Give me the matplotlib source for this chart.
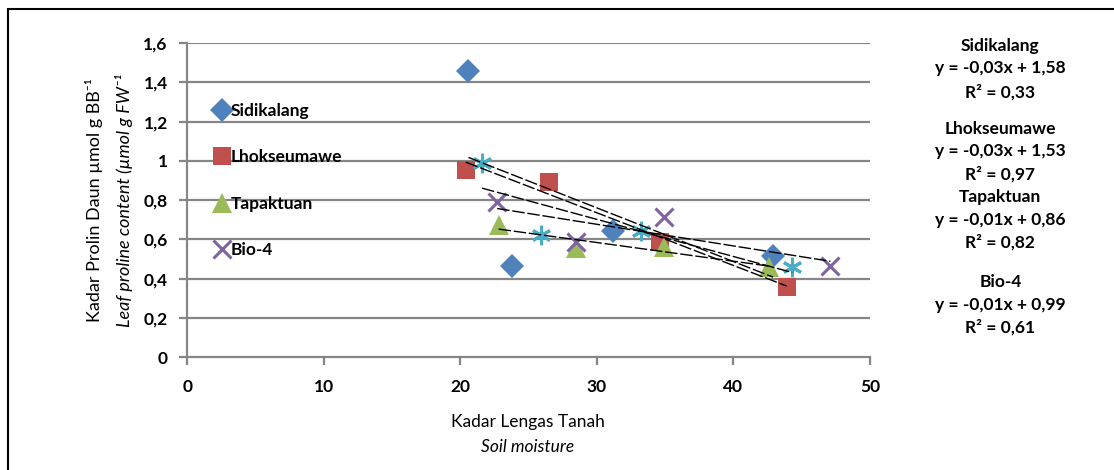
import numpy as np
import matplotlib
matplotlib.use("Agg")
import matplotlib.pyplot as plt
from matplotlib.patches import Rectangle

plt.rcParams['font.family'] = ['Lato', 'DejaVu Sans']

# data (soil moisture %, leaf proline)
sid_x = [20.6, 23.8, 31.2, 42.9]
sid_y = [1.46, 0.466, 0.64, 0.515]
lho_x = [20.4, 26.5, 34.6, 43.9]
lho_y = [0.954, 0.894, 0.588, 0.359]
tap_x = [22.8, 28.5, 34.9, 42.6]
tap_y = [0.673, 0.554, 0.563, 0.46]
bio_x = [22.7, 28.5, 34.9, 47.1]
bio_y = [0.79, 0.588, 0.716, 0.466]
cyan_x = [21.6, 25.9, 33.2, 44.3]
cyan_y = [0.988, 0.622, 0.64, 0.461]

y_ticks = [0, 0.2, 0.4, 0.6, 0.8, 1.0, 1.2, 1.4, 1.6]
y_labels = ["0", "0,2", "0,4", "0,6", "0,8", "1", "1,2", "1,4", "1,6"]
x_ticks = [0, 10, 20, 30, 40, 50]

eq_text = [
    "Sidikalang\ny = -0,03x + 1,58\nR² = 0,33",
    "Lhokseumawe\ny = -0,03x + 1,53\nR² = 0,97\nTapaktuan\ny = -0,01x + 0,86\nR² = 0,82",
    "Bio-4\ny = -0,01x + 0,99\nR² = 0,61",
]

series = [
    ("Sidikalang", sid_x, sid_y, "D", "#4F81BD", 12),
    ("Lhokseumawe", lho_x, lho_y, "s", "#C0504D", 13),
    ("Tapaktuan", tap_x, tap_y, "^", "#9BBB59", 14),
    ("Bio-4", bio_x, bio_y, "x", "#8064A2", 13),
    (None, cyan_x, cyan_y, (6, 2, 0), "#4BACC6", 14),
]

fig = plt.figure(figsize=(11.14, 4.70), dpi=100)
ax = fig.add_axes([0.168, 0.2404, 0.613, 0.668])

grid_c = "#868686"
for yv in y_ticks[1:]:
    ax.axhline(yv, color=grid_c, lw=1.6, zorder=1)

handles = []
for name, xs, ys, mk, col, ms in series:
    lw = 2.2 if mk in ("x", (6, 2, 0)) else 0
    h, = ax.plot(xs, ys, ls="none", marker=mk, color=col, ms=ms,
                 mew=lw, zorder=3, label=name)
    if name:
        handles.append(h)
    # linear trendline over the data range
    k, b = np.polyfit(xs, ys, 1)
    xx = np.array([min(xs), max(xs)])
    ax.plot(xx, k * xx + b, color="black", lw=1.0, ls=(0, (9, 2)), zorder=4)

ax.set_xlim(0, 50)
ax.set_ylim(0, 1.6)
ax.set_yticks(y_ticks)
ax.set_yticklabels(y_labels)
ax.set_xticks(x_ticks)
for s in ("top", "right"):
    ax.spines[s].set_visible(False)
for s in ("left", "bottom"):
    ax.spines[s].set_color(grid_c)
    ax.spines[s].set_linewidth(1.6)
ax.tick_params(axis="both", colors=grid_c, width=1.6, length=6, labelcolor="black",
               labelsize=12.5, pad=8)
for t in ax.get_xticklabels() + ax.get_yticklabels():
    t.set_fontweight("bold")
ax.tick_params(axis="x", pad=10)

leg = ax.legend(handles=handles, loc="upper left", bbox_to_anchor=(0.03, 0.831),
                frameon=False, labelspacing=1.75, handletextpad=0.05,
                handlelength=0.9, borderaxespad=0, prop={"weight": "bold", "size": 12.5})

fig.text(0.474, 0.102, "Kadar Lengas Tanah", ha="center", va="center", fontsize=12.5)
fig.text(0.474, 0.049, "Soil moisture", ha="center", va="center", fontsize=12.5,
         style="italic")
fig.text(0.084, 0.574, "Kadar Prolin Daun µmol g BB⁻¹", rotation=90,
         ha="center", va="center", fontsize=13)
fig.text(0.111, 0.574, "Leaf proline content (µmol g FW⁻¹", rotation=90,
         ha="center", va="center", fontsize=13, style="italic")

fig.text(0.898, 0.92, eq_text[0], ha="center", va="top", fontsize=12.5,
         fontweight="bold", linespacing=1.53)
fig.text(0.898, 0.743, eq_text[1], ha="center", va="top", fontsize=12.5,
         fontweight="bold", linespacing=1.5)
fig.text(0.898, 0.417, eq_text[2], ha="center", va="top", fontsize=12.5,
         fontweight="bold", linespacing=1.5)

fig.patches.append(Rectangle((8 / 1114, -0.05), 1.2, 1 - 9 / 470 + 0.05,
                             transform=fig.transFigure, fill=False,
                             edgecolor="black", lw=1.5))

fig.savefig("out.png", dpi=100)
